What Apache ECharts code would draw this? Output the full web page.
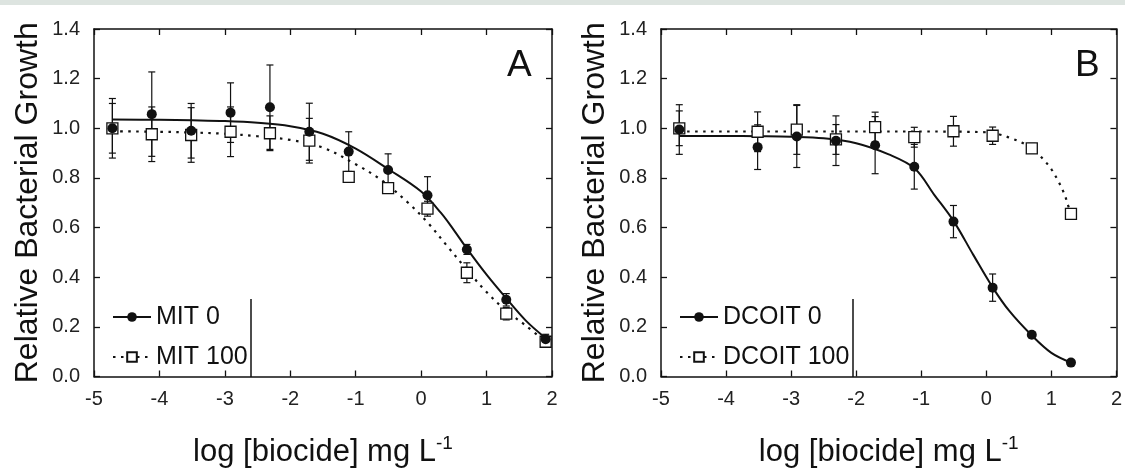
<!DOCTYPE html>
<html>
<head>
<meta charset="utf-8">
<script src="https://cdn.jsdelivr.net/npm/echarts@6/dist/echarts.min.js"></script>
<style>
  html, body { margin: 0; padding: 0; background: #fff; }
  #chart { width: 1125px; height: 473px; }
</style>
</head>
<body>
<div id="chart"></div>
<script>
// ---- Panel A: MIT ----
const mitX      = [-4.719, -4.117, -3.515, -2.913, -2.311, -1.709, -1.107, -0.505, 0.097, 0.699, 1.301, 1.903];
const mit0Y     = [1.000, 1.057, 0.990, 1.063, 1.085, 0.986, 0.906, 0.832, 0.730, 0.512, 0.309, 0.150];
const mit0Err   = [0.120, 0.170, 0.110, 0.120, 0.170, 0.115, 0.080, 0.065, 0.075, 0.020, 0.025, 0.020];
const mit100Y   = [1.000, 0.976, 0.973, 0.986, 0.980, 0.950, 0.804, 0.759, 0.676, 0.418, 0.253, 0.140];
const mit100Err = [0.100, 0.110, 0.110, 0.100, 0.070, 0.090, 0.020, 0.020, 0.030, 0.040, 0.025, 0.015];

// fitted dose-response curves, panel A
const mit0FitX   = [-4.72, -4.0, -3.5, -3.0, -2.5, -2.0, -1.5, -1.0, -0.5, 0.0, 0.3, 0.5, 0.7, 1.0, 1.3, 1.6, 1.9];
const mit0FitY   = [1.035, 1.034, 1.032, 1.029, 1.022, 1.008, 0.978, 0.918, 0.835, 0.745, 0.660, 0.590, 0.515, 0.410, 0.315, 0.225, 0.155];
const mit100FitX = [-4.72, -4.0, -3.5, -3.0, -2.5, -2.0, -1.5, -1.0, -0.6, -0.2, 0.1, 0.4, 0.7, 1.0, 1.3, 1.6, 1.9];
const mit100FitY = [0.988, 0.986, 0.983, 0.978, 0.968, 0.953, 0.922, 0.855, 0.790, 0.700, 0.620, 0.525, 0.430, 0.340, 0.265, 0.205, 0.140];

// ---- Panel B: DCOIT ----
const dcoitX      = [-4.719, -3.515, -2.913, -2.311, -1.709, -1.107, -0.505, 0.097, 0.699, 1.301];
const dcoit0Y     = [0.995, 0.924, 0.967, 0.950, 0.932, 0.845, 0.624, 0.358, 0.168, 0.056];
const dcoit0Err   = [0.100, 0.090, 0.125, 0.100, 0.115, 0.090, 0.065, 0.055, 0.010, 0.010];
const dcoit100Y   = [1.000, 0.986, 0.995, 0.955, 1.005, 0.964, 0.988, 0.970, 0.919, 0.655];
const dcoit100Err = [0.070, 0.080, 0.100, 0.060, 0.060, 0.040, 0.060, 0.035, 0.020, 0.020];

const dcoit0FitX   = [-4.72, -4.0, -3.5, -3.0, -2.5, -2.0, -1.5, -1.1, -0.8, -0.5, -0.2, 0.1, 0.35, 0.7, 1.0, 1.3];
const dcoit0FitY   = [0.969, 0.969, 0.968, 0.966, 0.960, 0.940, 0.895, 0.838, 0.732, 0.625, 0.490, 0.358, 0.265, 0.165, 0.095, 0.056];
const dcoit100FitX = [-4.72, -3.0, -1.0, 0.0, 0.2, 0.4, 0.6, 0.8, 0.9, 1.0, 1.1, 1.2, 1.25, 1.3];
const dcoit100FitY = [0.987, 0.987, 0.987, 0.984, 0.975, 0.958, 0.935, 0.895, 0.868, 0.835, 0.790, 0.735, 0.695, 0.655];

// ---- axis ticks ----
const xTicks = { min: -5, max: 2, interval: 1 };
const yTicks = { min: 0, max: 1.4, interval: 0.2 };

const FONT = 'Liberation Sans, Arial, sans-serif';
const INK = '#111';

const zip = (...cols) => cols[0].map((_, i) => cols.map(c => c[i]));

const chart = echarts.init(document.getElementById('chart'), null, { renderer: 'canvas' });

const grids = [
  { left: 94, top: 29, width: 458, height: 364 },
  { left: 661, top: 29, width: 458, height: 364 }
];

const axisLine = { show: true, onZero: false, lineStyle: { color: INK, width: 1.5 } };
const axisTick = { show: true, inside: true, length: 6, lineStyle: { color: INK, width: 1.3 } };

function xAxes(gridIndex) {
  return [
    {
      type: 'value', gridIndex, position: 'bottom', ...xTicks,
      axisLine, axisTick, splitLine: { show: false },
      axisLabel: { margin: 13, fontSize: 20, fontFamily: FONT, color: '#222' },
      name: 'log [biocide] mg L{sup|-1}', nameLocation: 'middle', nameGap: 58,
      nameTextStyle: {
        fontSize: 31, fontFamily: FONT, color: INK,
        rich: { sup: { fontSize: 19, fontFamily: FONT, color: INK, verticalAlign: 'top', padding: [0, 0, 17, 0] } }
      }
    },
    {
      type: 'value', gridIndex, position: 'top', ...xTicks,
      axisLine, axisTick, splitLine: { show: false }, axisLabel: { show: false }
    }
  ];
}

function yAxes(gridIndex) {
  return [
    {
      type: 'value', gridIndex, position: 'left', ...yTicks,
      axisLine, axisTick, splitLine: { show: false },
      axisLabel: { margin: 14, fontSize: 20, fontFamily: FONT, color: '#222', formatter: v => v.toFixed(1) },
      name: 'Relative Bacterial Growth', nameLocation: 'middle', nameGap: 50,
      nameTextStyle: { fontSize: 32, fontFamily: FONT, color: INK }
    },
    {
      type: 'value', gridIndex, position: 'right', ...yTicks,
      axisLine, axisTick, splitLine: { show: false }, axisLabel: { show: false }
    }
  ];
}

function errorBars(xs, ys, errs, xi, yi) {
  return {
    type: 'custom', xAxisIndex: xi, yAxisIndex: yi, silent: true, z: 2,
    data: zip(xs, ys, errs),
    renderItem(params, api) {
      const x = api.value(0), y = api.value(1), e = api.value(2);
      const hi = api.coord([x, y + e]);
      const lo = api.coord([x, y - e]);
      const hw = 3.5;
      const style = { stroke: INK, lineWidth: 1.2, fill: null };
      return {
        type: 'group',
        children: [
          { type: 'line', shape: { x1: hi[0], y1: hi[1], x2: lo[0], y2: lo[1] }, style },
          { type: 'line', shape: { x1: hi[0] - hw, y1: hi[1], x2: hi[0] + hw, y2: hi[1] }, style },
          { type: 'line', shape: { x1: lo[0] - hw, y1: lo[1], x2: lo[0] + hw, y2: lo[1] }, style }
        ]
      };
    }
  };
}

// fitted curve; carries the legend entry (line + marker)
function fitLine(name, xs, ys, xi, yi, dotted, open) {
  return {
    type: 'line', name, xAxisIndex: xi, yAxisIndex: yi, z: 3,
    data: zip(xs, ys), smooth: 0.35, showSymbol: false, silent: true,
    symbol: open ? 'rect' : 'circle',
    itemStyle: open ? { color: '#fff', borderColor: INK, borderWidth: 1.3 } : { color: INK },
    lineStyle: dotted
      ? { color: INK, width: 2.2, type: [2.5, 5.5] }
      : { color: INK, width: 2 }
  };
}

function points(xs, ys, xi, yi, open) {
  return {
    type: 'scatter', xAxisIndex: xi, yAxisIndex: yi, silent: true,
    z: open ? 4 : 5,
    data: zip(xs, ys),
    symbol: open ? 'rect' : 'circle',
    symbolSize: open ? 11 : 10,
    itemStyle: open
      ? { color: '#fff', borderColor: INK, borderWidth: 1.3, opacity: 1 }
      : { color: INK, opacity: 1 }
  };
}

function legendFor(names, left) {
  return {
    data: names, orient: 'vertical', left, top: 303, padding: 0,
    itemWidth: 38, itemHeight: 12, itemGap: 12, selectedMode: false,
    textStyle: { fontSize: 25, lineHeight: 28, fontFamily: FONT, color: INK }
  };
}

const option = {
  animation: false,
  backgroundColor: '#fff',
  grid: grids,
  xAxis: [...xAxes(0), ...xAxes(1)],
  yAxis: [...yAxes(0), ...yAxes(1)],
  legend: [legendFor(['MIT 0', 'MIT 100'], 112), legendFor(['DCOIT 0', 'DCOIT 100'], 679)],
  graphic: [
    { type: 'rect', left: 0, top: 0, shape: { width: 1125, height: 5 }, style: { fill: '#dde4e0' }, silent: true },
    { type: 'text', left: 507, top: 47, style: { text: 'A', fontSize: 37, fontFamily: FONT, fill: INK } },
    { type: 'text', left: 1075, top: 47, style: { text: 'B', fontSize: 37, fontFamily: FONT, fill: INK } },
    { type: 'line', shape: { x1: 251, y1: 299, x2: 251, y2: 377 }, style: { stroke: INK, lineWidth: 1.5 } },
    { type: 'line', shape: { x1: 853, y1: 299, x2: 853, y2: 377 }, style: { stroke: INK, lineWidth: 1.5 } }
  ],
  series: [
    // panel A
    errorBars(mitX, mit100Y, mit100Err, 0, 0),
    errorBars(mitX, mit0Y, mit0Err, 0, 0),
    fitLine('MIT 0', mit0FitX, mit0FitY, 0, 0, false, false),
    fitLine('MIT 100', mit100FitX, mit100FitY, 0, 0, true, true),
    points(mitX, mit100Y, 0, 0, true),
    points(mitX, mit0Y, 0, 0, false),
    // panel B
    errorBars(dcoitX, dcoit100Y, dcoit100Err, 2, 2),
    errorBars(dcoitX, dcoit0Y, dcoit0Err, 2, 2),
    fitLine('DCOIT 0', dcoit0FitX, dcoit0FitY, 2, 2, false, false),
    fitLine('DCOIT 100', dcoit100FitX, dcoit100FitY, 2, 2, true, true),
    points(dcoitX, dcoit100Y, 2, 2, true),
    points(dcoitX, dcoit0Y, 2, 2, false)
  ]
};

chart.setOption(option);
</script>
</body>
</html>
